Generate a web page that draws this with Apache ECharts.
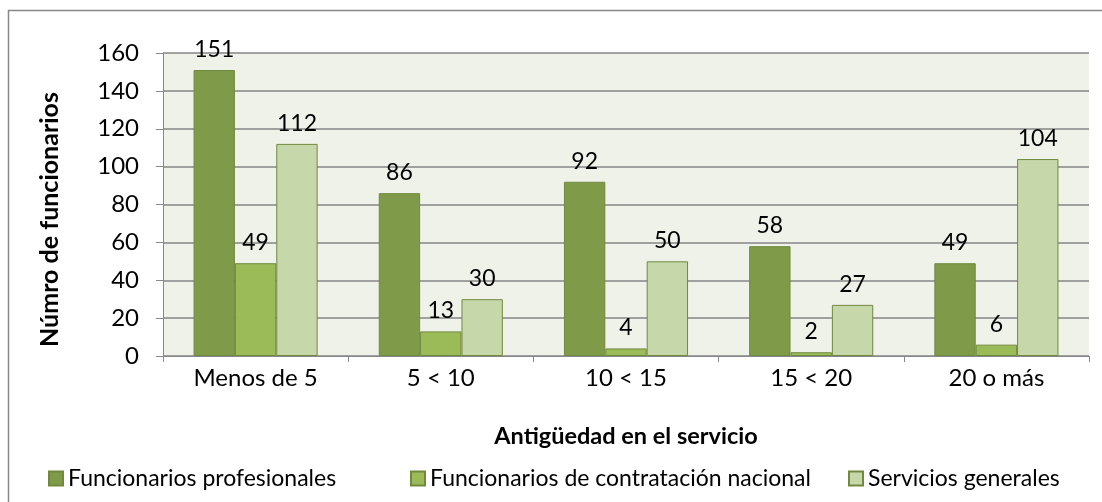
<!DOCTYPE html>
<html>
<head>
<meta charset="utf-8">
<script src="https://cdn.jsdelivr.net/npm/echarts@6/dist/echarts.min.js"></script>
<style>
  html, body { margin: 0; padding: 0; background: #fff; }
  #main { width: 1102px; height: 502px; }
</style>
</head>
<body>
<div id="main"></div>
<script>
// datos
var categorias = ['Menos de 5', '5 < 10', '10 < 15', '15 < 20', '20 o más'];
var profesionales = [151, 86, 92, 58, 49];
var contratacionNacional = [49, 13, 4, 2, 6];
var serviciosGenerales = [112, 30, 50, 27, 104];
var nombresSeries = ['Funcionarios profesionales', 'Funcionarios de contratación nacional', 'Servicios generales'];

var fuente = 'Lato, "Open Sans", sans-serif';
var myChart = echarts.init(document.getElementById('main'));

function serie(nombre, datos, color) {
    return {
        name: nombre,
        type: 'bar',
        data: datos,
        barGap: '0%',
        barCategoryGap: '33%',
        itemStyle: { color: color, borderColor: '#71893F', borderWidth: 1 },
        label: {
            show: true,
            position: 'top',
            distance: 9,
            color: '#000',
            fontFamily: fuente,
            fontSize: 23
        }
    };
}

// una leyenda por serie, como en el original (espaciado desigual)
function leyenda(nombre, izquierda) {
    return {
        left: izquierda,
        bottom: 7,
        itemWidth: 14,
        itemHeight: 14,
        itemGap: 0,
        icon: 'rect',
        textStyle: { fontSize: 23, color: '#000', fontFamily: fuente },
        data: [nombre]
    };
}

var option = {
    animation: false,
    textStyle: { fontFamily: fuente },
    graphic: [
        {
            type: 'rect',
            shape: { x: 8.5, y: 10.5, width: 1200, height: 600 },
            style: { fill: 'none', stroke: '#888', lineWidth: 1.5 },
            silent: true
        }
    ],
    legend: [
        leyenda(nombresSeries[0], 43),
        leyenda(nombresSeries[1], 405),
        leyenda(nombresSeries[2], 843)
    ],
    grid: {
        left: 163,
        right: 13,
        top: 53,
        bottom: 146,
        show: true,
        backgroundColor: '#EFF2E8',
        borderWidth: 0
    },
    xAxis: {
        type: 'category',
        data: categorias,
        name: 'Antigüedad en el servicio',
        nameLocation: 'middle',
        nameGap: 68,
        nameTextStyle: { fontSize: 23.5, fontWeight: 'bold', color: '#000', fontFamily: fuente },
        axisLine: { lineStyle: { color: '#888' } },
        axisTick: { show: true, length: 6, lineStyle: { color: '#888' } },
        axisLabel: { fontSize: 24, color: '#000', margin: 10, fontFamily: fuente }
    },
    yAxis: {
        type: 'value',
        min: 0,
        max: 160,
        interval: 20,
        name: 'Númro de funcionarios',
        nameLocation: 'middle',
        nameGap: 101,
        nameTextStyle: {
            fontSize: 25,
            fontWeight: 'bold',
            color: '#000',
            fontFamily: fuente,
            padding: [0, 30, 0, 0]
        },
        axisLine: { show: true, lineStyle: { color: '#888' } },
        axisTick: { show: true, length: 7, lineStyle: { color: '#888' } },
        splitLine: { lineStyle: { color: '#868686', width: 1.5 } },
        axisLabel: { fontSize: 24, color: '#000', margin: 24, fontFamily: fuente }
    },
    series: [
        serie(nombresSeries[0], profesionales, '#7F9A48'),
        serie(nombresSeries[1], contratacionNacional, '#9BBB59'),
        serie(nombresSeries[2], serviciosGenerales, '#C6D7AA')
    ]
};

myChart.setOption(option);
</script>
</body>
</html>
